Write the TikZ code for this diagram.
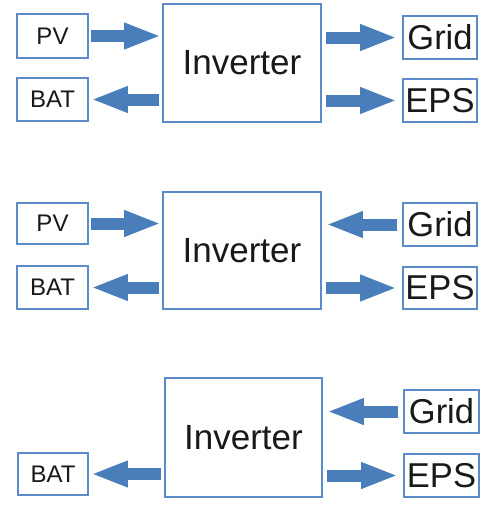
\documentclass[tikz,border=0pt]{standalone}
\usepackage{fontspec}
\setmainfont{Liberation Sans}
\usetikzlibrary{arrows.meta}
\definecolor{boxblue}{HTML}{5B8BC8}
\definecolor{arrblue}{HTML}{4A7EBB}
\begin{document}
\begin{tikzpicture}[x=1pt,y=-1pt,
  box/.style={draw=boxblue,line width=1.8pt,inner sep=0pt,fill=white,text=black!90},
  smallbox/.style={box,minimum width=71pt,font=\fontsize{24}{28}\selectfont},
  sidebox/.style={box,minimum width=74pt,font=\fontsize{34.5}{38}\selectfont},
  invbox/.style={box,minimum width=158pt,font=\fontsize{35}{40}\selectfont},
  flow/.style={draw=arrblue,line width=12pt,line cap=butt,-{Triangle[length=37pt,width=24pt]},arrblue}
]
\useasboundingbox (0,0) rectangle (492,514);
% panel 1
\node[smallbox,minimum height=44pt] (pv1) at (52.5,36) {PV};
\node[smallbox,minimum height=43pt] (bat1) at (52.5,99.5) {BAT};
\node[invbox,minimum height=118pt] (inv1) at (242,63) {Inverter};
\node[sidebox,minimum height=43pt] (grid1) at (440,37.5) {Grid};
\node[sidebox,minimum height=43pt] (eps1) at (440,100.5) {EPS};
\draw[flow,shorten <=2pt,shorten >=1pt] (pv1.east) -- (pv1.east -| inv1.west);
\draw[flow,shorten <=3pt,shorten >=2pt] (bat1.east -| inv1.west) -- (bat1.east);
\draw[flow,shorten <=4pt,shorten >=5pt] (grid1.west -| inv1.east) -- (grid1.west);
\draw[flow,shorten <=4pt,shorten >=5pt] (eps1.west -| inv1.east) -- (eps1.west);
% panel 2
\node[smallbox,minimum height=41pt] (pv2) at (52.5,223.5) {PV};
\node[smallbox,minimum height=43pt] (bat2) at (52.5,287.5) {BAT};
\node[invbox,minimum height=117pt] (inv2) at (242,250.5) {Inverter};
\node[sidebox,minimum height=43pt] (grid2) at (440,224.5) {Grid};
\node[sidebox,minimum height=42pt] (eps2) at (440,288) {EPS};
\draw[flow,shorten <=2pt,shorten >=1pt] (pv2.east) -- (pv2.east -| inv2.west);
\draw[flow,shorten <=3pt,shorten >=2pt] (bat2.east -| inv2.west) -- (bat2.east);
\draw[flow,shorten <=5pt,shorten >=4pt] (grid2.west) -- (grid2.west -| inv2.east);
\draw[flow,shorten <=4pt,shorten >=5pt] (eps2.west -| inv2.east) -- (eps2.west);
% panel 3
\node[invbox,minimum width=157pt,minimum height=119pt] (inv3) at (243.5,437.5) {Inverter};
\node[sidebox,minimum width=75pt,minimum height=43pt] (grid3) at (441.5,411.5) {Grid};
\node[sidebox,minimum width=75pt,minimum height=43pt] (eps3) at (441.5,475.5) {EPS};
\node[smallbox,minimum width=70pt,minimum height=42pt] (bat3) at (53,474) {BAT};
\draw[flow,shorten <=5pt,shorten >=4pt] (grid3.west) -- (grid3.west -| inv3.east);
\draw[flow,shorten <=3pt,shorten >=2pt] (bat3.east -| inv3.west) -- (bat3.east);
\draw[flow,shorten <=4pt,shorten >=5pt] (eps3.west -| inv3.east) -- (eps3.west);
\end{tikzpicture}
\end{document}
